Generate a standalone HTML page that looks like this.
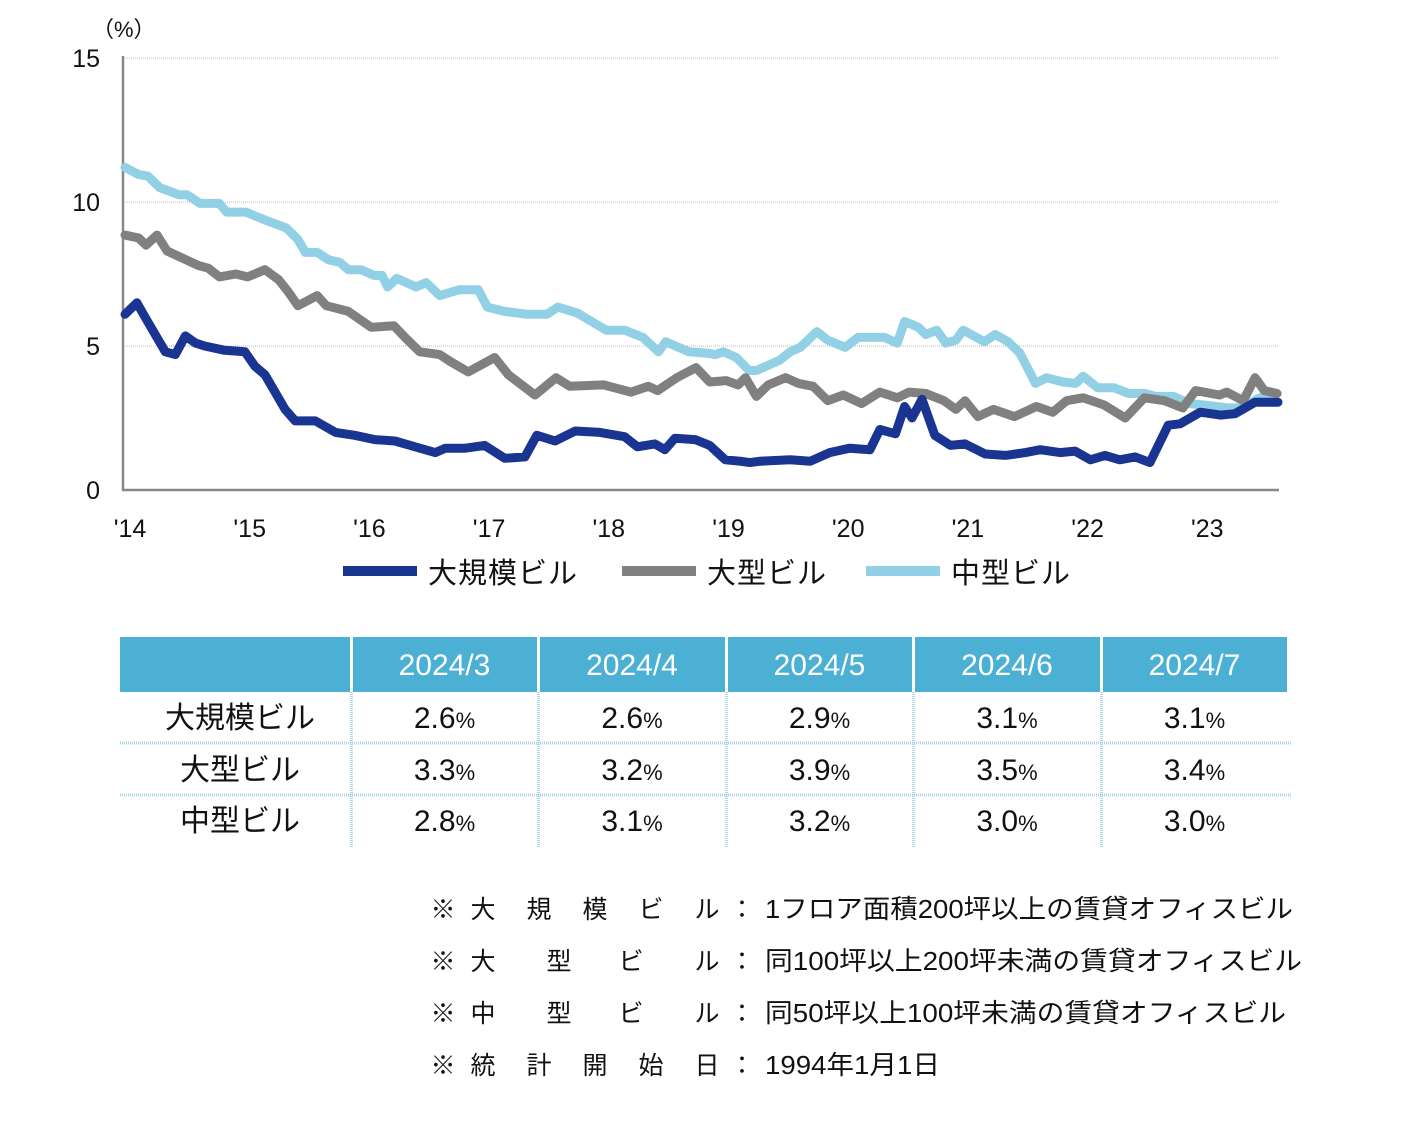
<!DOCTYPE html>
<html><head><meta charset="utf-8"><style>
html,body{margin:0;padding:0;background:#fff;}
svg{display:block;font-family:"Liberation Sans","Noto Sans CJK JP",sans-serif;}
</style></head><body>
<svg id="chart" width="1408" height="1148" viewBox="0 0 1408 1148" xmlns="http://www.w3.org/2000/svg">
<g id="grid"></g>
<g id="axes"></g>
<g id="lines"></g>
<g id="legend"></g>
<g id="table"></g>
<g id="notes"></g>
</svg>
<script>
const yTicks = [0, 5, 10, 15];
const yearLabels = ["'14","'15","'16","'17","'18","'19","'20","'21","'22","'23"];
const monthsMax = 126;
const largeMonths = [0,1.3,2.2,3.3,4.4,5.5,6.6,7.7,8.7,10.9,13.1,14.2,15.3,17.5,18.6,20.8,23,25.1,27.3,29.5,31.7,33.9,35,37.2,39.3,41.5,43.7,45,47,49.2,51.9,54.6,56,57.9,59,60.1,62.3,63.9,65.6,67.2,68.3,69.4,72.7,74.9,77,79.2,81.4,82.5,84.2,85.2,86,87.1,88.5,90.2,91.8,94,96.2,98.4,100,102.2,103.8,105.5,107.1,108.7,110.4,112,114,115.3,117.5,119.7,121.3,123.5,126];
const largeValues = [6.1,6.5,6.0,5.4,4.8,4.7,5.35,5.1,5.0,4.85,4.8,4.3,4.0,2.8,2.4,2.4,2.0,1.9,1.75,1.7,1.5,1.3,1.45,1.45,1.55,1.1,1.15,1.9,1.7,2.05,2.0,1.85,1.5,1.6,1.4,1.8,1.75,1.55,1.05,1.0,0.95,1.0,1.05,1.0,1.3,1.45,1.4,2.1,1.95,2.9,2.5,3.15,1.9,1.55,1.6,1.25,1.2,1.3,1.4,1.3,1.35,1.05,1.2,1.05,1.15,0.95,2.25,2.3,2.7,2.6,2.65,3.05,3.05];
const bigMonths = [0,1.5,2.3,3.5,4.6,8,9.1,10.3,12.1,13.4,15.3,16.8,17.8,18.9,21,22,24.4,26.9,29.4,30.6,32.2,34.4,35.6,37.5,40.4,41.9,44.8,47.1,48.6,52.3,55.3,57.2,58.2,60.3,62.4,63.9,65.7,67,67.8,69,70.3,72.2,73.6,75.2,76.8,78.5,80.5,82.5,84.4,85.7,87.5,89.5,90.8,91.8,93.2,94.9,97.2,99.6,101.4,102.9,104.7,107,109.3,111.4,113.6,115.6,117,119.6,120.4,122.2,123.5,124.5,125.9];
const bigValues = [8.85,8.75,8.5,8.85,8.3,7.8,7.7,7.4,7.5,7.4,7.65,7.3,6.9,6.4,6.75,6.4,6.2,5.65,5.7,5.3,4.8,4.7,4.45,4.1,4.6,4.0,3.3,3.9,3.6,3.65,3.4,3.6,3.45,3.9,4.25,3.75,3.8,3.65,3.9,3.25,3.65,3.9,3.7,3.6,3.1,3.3,3.0,3.4,3.2,3.4,3.35,3.1,2.8,3.1,2.55,2.8,2.55,2.9,2.7,3.1,3.2,2.95,2.5,3.2,3.1,2.85,3.45,3.3,3.4,3.1,3.9,3.45,3.35];
const midMonths = [0,1.5,2.5,3.8,5.9,6.8,8.2,10.3,11.1,13.2,15.5,17.6,18.9,19.7,21,22.2,23.5,24.4,25.8,27.2,28.1,28.7,29.7,31.8,32.9,34.4,36.5,38.6,39.6,41.5,44,46.1,47.3,49.4,52.6,54.6,56.6,58.3,59.1,61.6,63.7,64.5,65.4,66.8,68.2,69,71.5,72.7,73.8,75.6,76.8,78.7,80.1,83,84.4,85.2,86.7,87.5,88.7,89.7,90.8,91.6,93.9,95.1,96.5,97.8,99.5,100.7,102.5,103.9,104.7,106.3,108.1,109.7,111.4,112.6,114.6,116.3,117.9,120.4,122,124,125.7];
const midValues = [11.2,10.95,10.9,10.5,10.25,10.25,9.95,9.95,9.65,9.65,9.35,9.1,8.7,8.25,8.25,8.0,7.9,7.65,7.65,7.45,7.45,7.05,7.35,7.05,7.2,6.75,6.95,6.95,6.35,6.2,6.1,6.1,6.35,6.15,5.55,5.55,5.3,4.8,5.15,4.8,4.75,4.7,4.8,4.6,4.15,4.15,4.5,4.8,4.95,5.5,5.2,4.95,5.3,5.3,5.1,5.85,5.65,5.4,5.55,5.1,5.2,5.55,5.15,5.4,5.15,4.75,3.7,3.9,3.75,3.7,3.95,3.55,3.55,3.35,3.35,3.25,3.25,3.0,2.95,2.85,2.85,3.2,3.3];
const seriesNames = ["大規模ビル","大型ビル","中型ビル"];
const tableMonths = ["2024/3","2024/4","2024/5","2024/6","2024/7"];
const tableLarge = [2.6,2.6,2.9,3.1,3.1];
const tableBig = [3.3,3.2,3.9,3.5,3.4];
const tableMid = [2.8,3.1,3.2,3.0,3.0];

const NS = "http://www.w3.org/2000/svg";
const X0 = 125, X1 = 1278, Y0 = 490, Y15 = 58;
function xScale(m){ return X0 + (X1 - X0) * m / monthsMax; }
function yScale(v){ return Y0 - (Y0 - Y15) * v / 15; }
function mk(tag, attrs, parent, txt){
  const e = document.createElementNS(NS, tag);
  for (const k in attrs) e.setAttribute(k, attrs[k]);
  if (txt !== undefined) e.textContent = txt;
  parent.appendChild(e);
  return e;
}
const grid = document.getElementById('grid'), axes = document.getElementById('axes'), lines = document.getElementById('lines');

yTicks.forEach(t => {
  const y = yScale(t);
  if (t > 0) {
    const g = mk('line', {x1:123, x2:1278, y1:y, y2:y, stroke:'#bbb', 'stroke-width':1, 'stroke-dasharray':'1 1'}, grid);
    
    
  }
  const lb = mk('text', {x:100, y:y+9, 'text-anchor':'end', 'font-size':25, fill:'#111'}, axes, String(t));
  
  
});
const unit = mk('text', {x:92, y:37, 'font-size':22, fill:'#111'}, axes, '（%）');


const ya = mk('line', {x1:123, x2:123, y1:56, y2:491, stroke:'#888', 'stroke-width':2.5}, axes);


const xa = mk('line', {x1:122, x2:1279, y1:490, y2:490, stroke:'#888', 'stroke-width':2.5}, axes);


yearLabels.forEach((l, i) => {
  const t = mk('text', {x:130 + i*119.7, y:537, 'text-anchor':'middle', 'font-size':25, fill:'#111'}, axes, l);
  
  
});

function drawSeries(months, values, color, name){
  const d = months.map((m, i) => (i ? 'L' : 'M') + xScale(m).toFixed(1) + ',' + yScale(values[i]).toFixed(1)).join(' ');
  const p = mk('path', {d:d, fill:'none', stroke:color, 'stroke-width':9, 'stroke-linejoin':'round', 'stroke-linecap':'round'}, lines);
  
  
}
drawSeries(midMonths, midValues, '#92d0e6', 'line-mid-size');
drawSeries(bigMonths, bigValues, '#808080', 'line-large');
drawSeries(largeMonths, largeValues, '#1a3591', 'line-very-large');

const legend = document.getElementById('legend');
const legColors = ['#1a3591','#808080','#92d0e6'];
const legX = [343, 622, 866];
seriesNames.forEach((n, i) => {
  const r = mk('rect', {x:legX[i], y:566, width:74, height:10, fill:legColors[i]}, legend);
  
  
  const t = mk('text', {x:legX[i]+85, y:583, 'font-size':29, fill:'#111', 'letter-spacing':'1'}, legend, n);
  
  
});

const table = document.getElementById('table');
const colX = [120, 353, 540, 728, 915, 1103];
const colW = [231, 185, 186, 185, 186, 185];
const hdr = mk('rect', {x:120, y:637, width:1167, height:55, fill:'#4bb0d3'}, table);


for (let i = 1; i < 6; i++) {
  const s = mk('rect', {x:colX[i]-3, y:637, width:3, height:55, fill:'#fff'}, table);
  
  
  const v = mk('line', {x1:colX[i]-1.5, x2:colX[i]-1.5, y1:692, y2:848, stroke:'#a9d6e8', 'stroke-width':3, 'stroke-dasharray':'1 1'}, table);
  
  
}
tableMonths.forEach((m, i) => {
  const t = mk('text', {x:colX[i+1] + colW[i+1]/2 - 1, y:675, 'text-anchor':'middle', 'font-size':30, fill:'#fff'}, table, m);
  
  
});
[743, 795].forEach(y => {
  const h = mk('line', {x1:120, x2:1292, y1:y, y2:y, stroke:'#a9d6e8', 'stroke-width':3, 'stroke-dasharray':'1 1'}, table);
  
  
});
const rowsVals = [tableLarge, tableBig, tableMid];
const rowY = [728, 780, 831];
seriesNames.forEach((n, r) => {
  const t = mk('text', {x:240, y:rowY[r], 'text-anchor':'middle', 'font-size':30, fill:'#111'}, table, n);
  
  
  rowsVals[r].forEach((v, i) => {
    const c = mk('text', {x:colX[i+1] + colW[i+1]/2 - 1, y:rowY[r], 'text-anchor':'middle', 'font-size':30, fill:'#111'}, table);
    
    
    mk('tspan', {}, c, v.toFixed(1));
    mk('tspan', {'font-size':22}, c, '%');
  });
});

const notes = document.getElementById('notes');
const noteLabels = [["大","規","模","ビ","ル"],["大","型","ビ","ル"],["中","型","ビ","ル"],["統","計","開","始","日"]];
const noteDesc = ["1フロア面積200坪以上の賃貸オフィスビル","同100坪以上200坪未満の賃貸オフィスビル","同50坪以上100坪未満の賃貸オフィスビル","1994年1月1日"];
const noteW = [528, 537, 521, 175];
noteLabels.forEach((chars, r) => {
  const y = 918 + r*52;
  const g = mk('g', {}, notes);
  
  
  mk('text', {x:443, y:y, 'text-anchor':'middle', 'font-size':25, fill:'#111'}, g, '※');
  const pos = chars.length === 5 ? [483,539,595,651,707] : [483,559,631,707];
  chars.forEach((c, i) => mk('text', {x:pos[i], y:y, 'text-anchor':'middle', 'font-size':25, fill:'#111'}, g, c));
  mk('text', {x:742, y:y, 'text-anchor':'middle', 'font-size':25, fill:'#111'}, g, '：');
  mk('text', {x:765, y:y, 'font-size':26, fill:'#111', textLength:noteW[r], lengthAdjust:'spacingAndGlyphs'}, g, noteDesc[r]);
});
</script>
</body></html>
